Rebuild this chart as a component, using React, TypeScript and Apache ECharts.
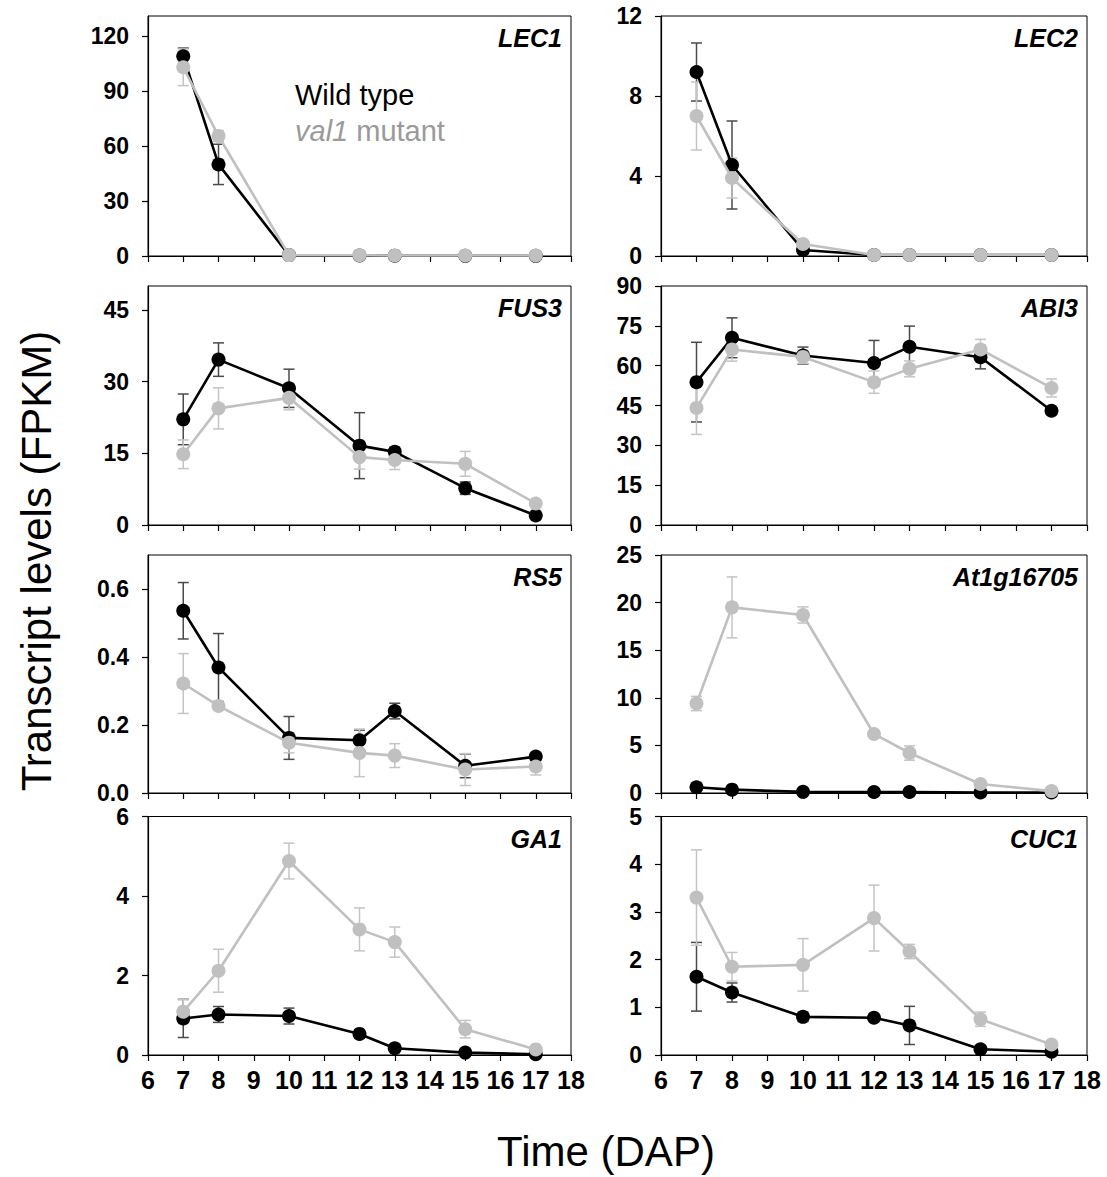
import React, { useEffect, useRef } from "react";
import * as echarts from "echarts";

const FONT = "'Liberation Sans', Arial, sans-serif";
const BLACK = "#000000";
const GRAY = "#c0c0c0";
const ERR_BLACK = "#4a4a4a";
const ERR_GRAY = "#c4c4c4";

const days = [7, 8, 10, 12, 13, 15, 17];
const xTickLabels = [6, 7, 8, 9, 10, 11, 12, 13, 14, 15, 16, 17, 18];

const lec1WT = [109, 50, 0.5, 0.3, 0.2, 0.1, 0.1];
const lec1WTErr = [4.5, 11, 0, 0, 0, 0, 0];
const lec1Val = [103, 65.5, 0.5, 0.4, 0.3, 0.3, 0.3];
const lec1ValErr = [10, 3, 0, 0, 0, 0, 0];

const lec2WT = [9.2, 4.55, 0.3, 0.05, 0.05, 0.05, 0.05];
const lec2WTErr = [1.45, 2.2, 0.1, 0, 0, 0, 0];
const lec2Val = [7.0, 3.9, 0.6, 0.05, 0.05, 0.05, 0.05];
const lec2ValErr = [1.7, 1.0, 0.1, 0, 0, 0, 0];

const fus3WT = [22.1, 34.6, 28.6, 16.6, 15.3, 7.7, 2.0];
const fus3WTErr = [5.3, 3.5, 4.0, 6.9, 1.0, 1.3, 0.5];
const fus3Val = [14.8, 24.4, 26.6, 14.2, 13.6, 12.8, 4.5];
const fus3ValErr = [3.0, 4.3, 2.5, 2.5, 2.0, 2.6, 0.5];

const abi3WT = [53.8, 70.5, 63.8, 61.0, 67.1, 63.2, 43.0];
const abi3WTErr = [15, 7.5, 3.2, 8.5, 7.8, 4.4, 1.0];
const abi3Val = [44.1, 66.1, 63.3, 53.8, 58.8, 66.1, 51.6];
const abi3ValErr = [10, 4.4, 2.5, 4.2, 3.0, 3.8, 3.4];

const rs5WT = [0.536, 0.369, 0.162, 0.155, 0.241, 0.08, 0.107];
const rs5WTErr = [0.083, 0.1, 0.063, 0.03, 0.023, 0.035, 0.01];
const rs5Val = [0.322, 0.256, 0.148, 0.118, 0.11, 0.069, 0.078];
const rs5ValErr = [0.088, 0.01, 0.03, 0.07, 0.035, 0.047, 0.025];

const at1gWT = [0.6, 0.35, 0.12, 0.1, 0.1, 0.05, 0.05];
const at1gWTErr = [0.2, 0.1, 0, 0, 0, 0, 0];
const at1gVal = [9.4, 19.5, 18.7, 6.2, 4.2, 0.95, 0.2];
const at1gValErr = [0.75, 3.2, 0.85, 0.3, 0.75, 0.2, 0.05];

const ga1WT = [0.92, 1.02, 0.98, 0.53, 0.17, 0.06, 0.02];
const ga1WTErr = [0.48, 0.2, 0.2, 0.1, 0.05, 0.02, 0.01];
const ga1Val = [1.09, 2.12, 4.88, 3.16, 2.84, 0.65, 0.14];
const ga1ValErr = [0.3, 0.54, 0.45, 0.54, 0.38, 0.22, 0.03];

const cuc1WT = [1.64, 1.31, 0.8, 0.78, 0.62, 0.12, 0.07];
const cuc1WTErr = [0.72, 0.2, 0.1, 0.05, 0.4, 0.03, 0.02];
const cuc1Val = [3.3, 1.85, 1.89, 2.87, 2.17, 0.75, 0.22];
const cuc1ValErr = [1.0, 0.3, 0.55, 0.69, 0.15, 0.15, 0.03];

const panels = [
  { gene: "LEC1", max: 131, yTicks: [0, 30, 60, 90, 120], wt: lec1WT, wtErr: lec1WTErr, val: lec1Val, valErr: lec1ValErr, decimals: 0 },
  { gene: "LEC2", max: 12, yTicks: [0, 4, 8, 12], wt: lec2WT, wtErr: lec2WTErr, val: lec2Val, valErr: lec2ValErr, decimals: 0 },
  { gene: "FUS3", max: 50, yTicks: [0, 15, 30, 45], wt: fus3WT, wtErr: fus3WTErr, val: fus3Val, valErr: fus3ValErr, decimals: 0 },
  { gene: "ABI3", max: 90, yTicks: [0, 15, 30, 45, 60, 75, 90], wt: abi3WT, wtErr: abi3WTErr, val: abi3Val, valErr: abi3ValErr, decimals: 0 },
  { gene: "RS5", max: 0.7, yTicks: [0, 0.2, 0.4, 0.6], wt: rs5WT, wtErr: rs5WTErr, val: rs5Val, valErr: rs5ValErr, decimals: 1 },
  { gene: "At1g16705", max: 25, yTicks: [0, 5, 10, 15, 20, 25], wt: at1gWT, wtErr: at1gWTErr, val: at1gVal, valErr: at1gValErr, decimals: 0 },
  { gene: "GA1", max: 6, yTicks: [0, 2, 4, 6], wt: ga1WT, wtErr: ga1WTErr, val: ga1Val, valErr: ga1ValErr, decimals: 0 },
  { gene: "CUC1", max: 5, yTicks: [0, 1, 2, 3, 4, 5], wt: cuc1WT, wtErr: cuc1WTErr, val: cuc1Val, valErr: cuc1ValErr, decimals: 0 },
];

const colLeft = [148, 661];
const colWidth = [423, 426];
const rowTop = [16, 286, 555, 816.5];
const rowHeight = [240, 239, 238, 238.5];

function errorSeries(gridIndex: number, values: number[], errs: number[], color: string, z: number) {
  return {
    type: "custom",
    xAxisIndex: gridIndex,
    yAxisIndex: gridIndex,
    z,
    silent: true,
    encode: { x: 0, y: 1 },
    data: days.map((d, k) => [d, values[k], errs[k]]),
    renderItem: (params: any, api: any) => {
      const x = api.value(0);
      const y = api.value(1);
      const e = api.value(2);
      if (!e) return { type: "group", children: [] };
      const top = api.coord([x, y + e]);
      const bot = api.coord([x, Math.max(0, y - e)]);
      const cap = 5.5;
      const style = { stroke: color, lineWidth: 1.5 };
      return {
        type: "group",
        children: [
          { type: "line", shape: { x1: top[0], y1: top[1], x2: bot[0], y2: bot[1] }, style },
          { type: "line", shape: { x1: top[0] - cap, y1: top[1], x2: top[0] + cap, y2: top[1] }, style },
          { type: "line", shape: { x1: bot[0] - cap, y1: bot[1], x2: bot[0] + cap, y2: bot[1] }, style },
        ],
      };
    },
  };
}

function lineSeries(gridIndex: number, values: number[], color: string, z: number) {
  return {
    type: "line",
    xAxisIndex: gridIndex,
    yAxisIndex: gridIndex,
    z,
    data: days.map((d, k) => [d, values[k]]),
    symbol: "circle",
    symbolSize: 14,
    itemStyle: { color },
    lineStyle: { color, width: 2.6 },
    silent: true,
  };
}

export default function App() {
  const ref = useRef<HTMLDivElement>(null);
  useEffect(() => {
    document.body.style.margin = "0";
    if (!ref.current) return;
    const chart = echarts.init(ref.current, null, { renderer: "svg" });

    const grids: any[] = [];
    const xAxes: any[] = [];
    const yAxes: any[] = [];
    const series: any[] = [];
    const graphics: any[] = [];

    panels.forEach((p, i) => {
      const col = i % 2;
      const row = Math.floor(i / 2);
      const left = colLeft[col];
      const top = rowTop[row];
      const width = colWidth[col];
      const height = rowHeight[row];
      grids.push({
        left,
        top,
        width,
        height,
        show: true,
        borderColor: "#000",
        borderWidth: 1,
        backgroundColor: "transparent",
        containLabel: false,
      });
      xAxes.push({
        gridIndex: i,
        type: "value",
        min: 6,
        max: 18,
        interval: 1,
        axisLine: { show: true, onZero: false, lineStyle: { color: "#000", width: 1.2 } },
        axisTick: { show: true, length: 6, lineStyle: { color: "#000", width: 1.2 }, customValues: xTickLabels },
        axisLabel: {
          show: row === 3,
          customValues: xTickLabels,
          fontSize: 25,
          fontWeight: "bold",
          fontFamily: FONT,
          color: "#000",
          margin: 12,
        },
        splitLine: { show: false },
      });
      yAxes.push({
        gridIndex: i,
        type: "value",
        min: 0,
        max: p.max,
        interval: p.yTicks[1] - p.yTicks[0],
        axisLine: { show: true, onZero: false, lineStyle: { color: "#000", width: 1.2 } },
        axisTick: { show: true, length: 6, lineStyle: { color: "#000", width: 1.2 }, customValues: p.yTicks },
        axisLabel: {
          customValues: p.yTicks,
          fontSize: 23,
          lineHeight: 16,
          fontWeight: "bold",
          fontFamily: FONT,
          color: "#000",
          margin: 19,
          formatter: (v: number) => v.toFixed(p.decimals),
        },
        splitLine: { show: false },
      });
      series.push(errorSeries(i, p.wt, p.wtErr, ERR_BLACK, 1));
      series.push(errorSeries(i, p.val, p.valErr, ERR_GRAY, 1));
      series.push(lineSeries(i, p.wt, BLACK, 3));
      series.push(lineSeries(i, p.val, GRAY, 4));
      graphics.push({
        type: "text",
        x: left + width - 9,
        y: top + 22,
        style: {
          text: p.gene,
          fontSize: 25,
          fontWeight: "bold",
          fontStyle: "italic",
          fontFamily: FONT,
          fill: "#000",
          textAlign: "right",
          textVerticalAlign: "middle",
        },
      });
    });

    graphics.push({
      type: "text",
      x: 295,
      y: 95,
      style: {
        text: "Wild type",
        fontSize: 29,
        fontFamily: FONT,
        fill: "#000",
        textAlign: "left",
        textVerticalAlign: "middle",
      },
    });
    graphics.push({
      type: "text",
      x: 295,
      y: 131,
      style: {
        text: "{i|val1} mutant",
        fontSize: 29,
        fontFamily: FONT,
        fill: "#9a9a9a",
        textAlign: "left",
        textVerticalAlign: "middle",
        rich: {
          i: { fontStyle: "italic", fontSize: 29, fontFamily: FONT, fill: "#9a9a9a", color: "#9a9a9a" },
        },
      },
    });
    graphics.push({
      type: "text",
      x: 36,
      y: 561,
      rotation: Math.PI / 2,
      style: {
        text: "Transcript levels (FPKM)",
        fontSize: 42,
        fontFamily: FONT,
        fill: "#000",
        textAlign: "center",
        textVerticalAlign: "middle",
      },
    });
    graphics.push({
      type: "text",
      x: 606,
      y: 1151,
      style: {
        text: "Time (DAP)",
        fontSize: 42,
        fontFamily: FONT,
        fill: "#000",
        textAlign: "center",
        textVerticalAlign: "middle",
      },
    });

    chart.setOption({
      animation: false,
      backgroundColor: "#ffffff",
      grid: grids,
      xAxis: xAxes,
      yAxis: yAxes,
      series,
      graphic: graphics,
    });
    return () => chart.dispose();
  }, []);
  return <div ref={ref} style={{ width: 1107, height: 1177 }} />;
}
